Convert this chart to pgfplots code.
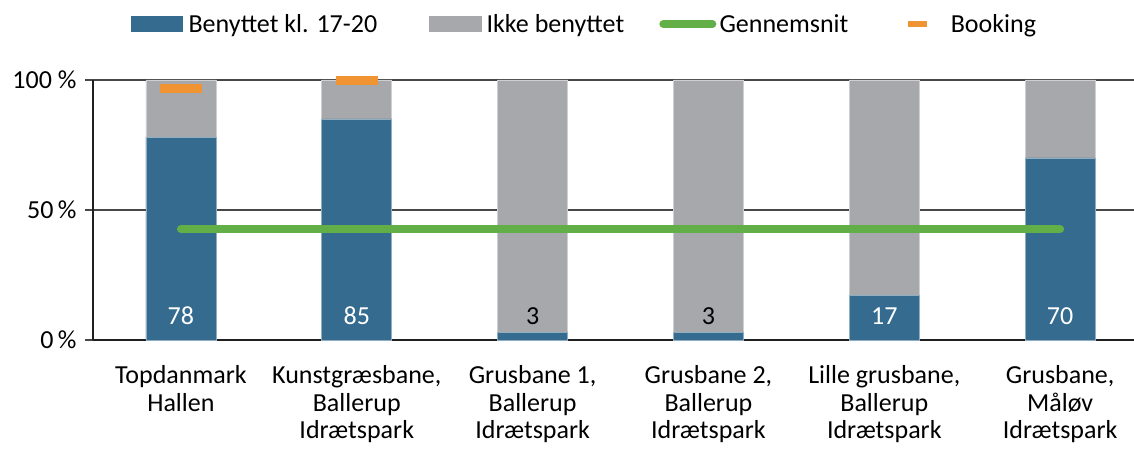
\documentclass[border=0pt]{standalone}
\usepackage{pgfplots}
\pgfplotsset{compat=1.18}
\usepackage{fontspec}
\setmainfont{Carlito}
\definecolor{cblue}{RGB}{52,107,143}
\definecolor{cgray}{RGB}{167,168,171}
\definecolor{cgreen}{RGB}{98,174,71}
\definecolor{corange}{RGB}{240,148,51}
\newcommand\ff{\fontsize{26}{27.5}\selectfont}
\begin{document}
\begin{tikzpicture}[x=1pt,y=1pt]
\path[use as bounding box] (0,0) rectangle (1134,452);
\begin{axis}[
  at={(93pt,112pt)}, anchor=south west,
  scale only axis, width=1041pt, height=260pt,
  xmin=-0.5, xmax=5.42, ymin=0, ymax=100,
  axis lines*=left,
  axis line style={line width=2.2pt, black!88, -},
  ytick={0,50,100}, yticklabels={0\,\%, 50\,\%, 100 \%},
  ymajorgrids, major grid style={line width=1.8pt, black!72},
  xtick={0,1,2,3,4,5},
  xticklabels={{Topdanmark\\Hallen},{Kunstgræsbane,\\Ballerup\\Idrætspark},{Grusbane 1,\\Ballerup\\Idrætspark},{Grusbane 2,\\Ballerup\\Idrætspark},{Lille grusbane,\\Ballerup\\Idrætspark},{Grusbane,\\Måløv\\Idrætspark}},
  x tick style={draw=none}, y tick style={line width=1.5pt, black!72},
  tick align=outside, major tick length=8pt,
  xticklabel style={align=center, font=\ff, yshift=-14pt},
  yticklabel style={font=\ff, xshift=-5pt},
  legend style={draw=none, fill=none, inner sep=0pt, font=\ff,
    at={(0.0365,1.2154)}, anchor=west, legend columns=4,
    nodes={inner sep=0pt}, column sep=0pt,
    /tikz/every even column/.style={column sep=0pt}},
]
% legend images
\addlegendimage{legend image code/.code={\fill[cblue] (0pt,-7.5pt) rectangle (51pt,7.5pt); \path (57pt,0pt);}}
\addlegendentry{Benyttet kl. 17-20}
\addlegendimage{legend image code/.code={\path (-52pt,0pt); \fill[cgray] (0pt,-7.5pt) rectangle (52pt,7.5pt); \path (57pt,0pt);}}
\addlegendentry{Ikke benyttet}
\addlegendimage{legend image code/.code={\path (-35pt,0pt); \draw[cgreen, line width=8pt, line cap=round] (4pt,0pt) -- (53pt,0pt); \path (60pt,0pt);}}
\addlegendentry{Gennemsnit}
\addlegendimage{legend image code/.code={\path (-60pt,0pt); \fill[corange] (0pt,-2.5pt) rectangle (18pt,2.5pt); \path (42pt,0pt);}}
\addlegendentry{Booking}
% Ikke benyttet (drawn as full bars behind)
\addplot[forget plot, ybar, bar width=70pt, bar shift=0pt, fill=cgray, draw=cgray!55!white, line width=0.7pt]
  coordinates {(0,100) (1,100) (2,100) (3,100) (4,100) (5,100)};
% Benyttet kl. 17-20
\addplot[forget plot, ybar, bar width=70pt, bar shift=0pt, fill=cblue, draw=cblue!55!white, line width=0.7pt]
  coordinates {(0,78) (1,85) (2,3) (3,3) (4,17) (5,70)};
% Gennemsnit
\addplot[forget plot, cgreen, line width=8pt, line cap=round]
  coordinates {(0,42.67) (5,42.67)};
% Booking
\addplot[forget plot, only marks, mark=-, mark size=21pt, mark options={line width=9pt, corange, line cap=butt}]
  coordinates {(0,96.9) (1,99.9)};
% value labels
\addplot[forget plot, draw=none, nodes near coords, point meta=explicit symbolic,
  nodes near coords style={anchor=center, font=\ff, text=white}]
  coordinates {(0,9.2)[78] (1,9.2)[85] (4,9.2)[17] (5,9.2)[70]};
\addplot[forget plot, draw=none, nodes near coords, point meta=explicit symbolic,
  nodes near coords style={anchor=center, font=\ff, text=black}]
  coordinates {(2,9.2)[3] (3,9.2)[3]};
\end{axis}
\end{tikzpicture}
\end{document}
